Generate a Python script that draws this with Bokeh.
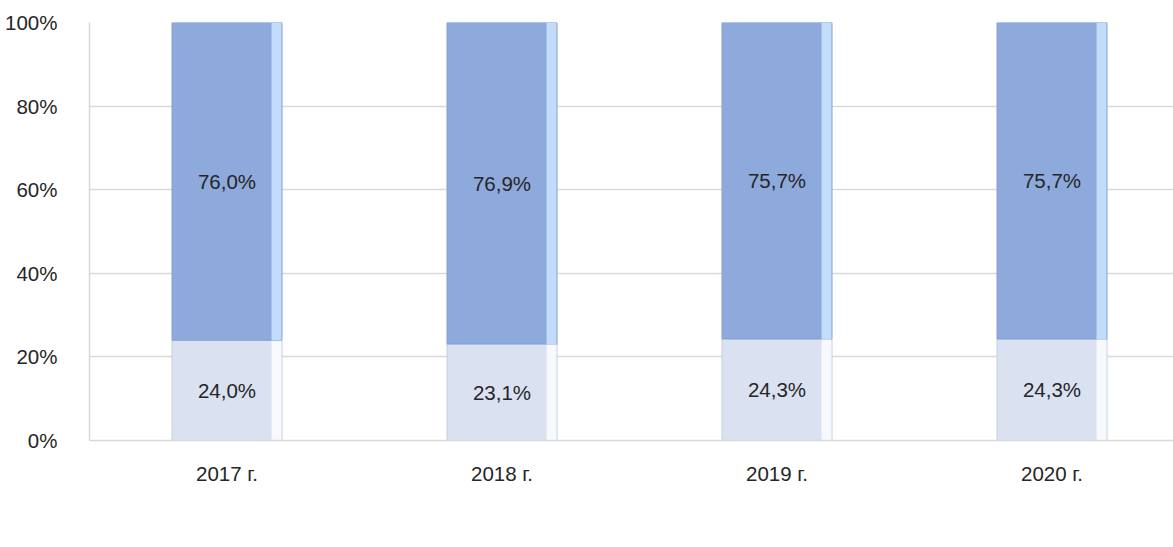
from bokeh.plotting import figure
from bokeh.models import ColumnDataSource, FixedTicker, NumeralTickFormatter, Legend, LegendItem, Range1d
from bokeh.core.properties import value
from bokeh.embed import file_html
from bokeh.resources import INLINE

years = ["2017 г.", "2018 г.", "2019 г.", "2020 г."]
mandatory = [24.0, 23.1, 24.3, 24.3]
discretion = [76.0, 76.9, 75.7, 75.7]
series_names = ["Задължително", "По преценка на ТП на НОИ"]

FONT = "Liberation Sans"
FS = "20.5px"
xs = [i + 0.5 for i in range(len(years))]
bw = 0.4
strip = 0.036

m = [v / 100 for v in mandatory]
d = [v / 100 for v in discretion]
top = [a + b for a, b in zip(m, d)]

src = ColumnDataSource(dict(
    x=xs,
    xs_strip=[x + bw / 2 - strip / 2 - 0.002 for x in xs],
    m=m, top=top,
    m_mid=[a / 2 for a in m],
    d_mid=[a + b / 2 for a, b in zip(m, d)],
    m_lab=[f"{v:.1f}%".replace(".", ",") for v in mandatory],
    d_lab=[f"{v:.1f}%".replace(".", ",") for v in discretion],
))

p = figure(frame_width=1084, frame_height=418, min_border_left=89, min_border_top=22,
           min_border_right=0, min_border_bottom=0,
           output_backend="svg", toolbar_location=None,
           x_range=Range1d(0, 1084 / 275), y_range=Range1d(0, 1))
p.outline_line_color = None
p.background_fill_color = "white"

r1 = p.vbar(x="x", width=bw, bottom=0, top="m", source=src,
            fill_color="#DAE1F1", line_color="#C4CFE6", line_width=1)
p.vbar(x="xs_strip", width=strip, bottom=0, top="m", source=src,
       fill_color="#F7F9FD", line_color=None)
r2 = p.vbar(x="x", width=bw, bottom="m", top="top", source=src,
            fill_color="#8EA9DB", line_color="#839FD4", line_width=1)
p.vbar(x="xs_strip", width=strip, bottom="m", top="top", source=src,
       fill_color="#C3DCFA", line_color=None)

p.text(x="x", y="m_mid", text="m_lab", source=src, text_align="center", text_baseline="middle",
       text_font=value(FONT), text_font_size=FS, text_color="#262626")
p.text(x="x", y="d_mid", text="d_lab", source=src, text_align="center", text_baseline="middle",
       text_font=value(FONT), text_font_size=FS, text_color="#262626")

p.xgrid.visible = False
p.ygrid.grid_line_color = "#D9D9D9"
p.ygrid.grid_line_width = 1.5
p.ygrid.ticker = FixedTicker(ticks=[0, 0.2, 0.4, 0.6, 0.8, 1.0])

p.yaxis.ticker = FixedTicker(ticks=[0, 0.2, 0.4, 0.6, 0.8, 1.0])
p.yaxis.formatter = NumeralTickFormatter(format="0%")
p.yaxis.axis_line_color = "#D9D9D9"
p.yaxis.axis_line_width = 1.5
p.yaxis.major_tick_line_color = None
p.yaxis.minor_tick_line_color = None
p.yaxis.major_label_text_font = FONT
p.yaxis.major_label_text_font_size = FS
p.yaxis.major_label_text_color = "#262626"
p.yaxis.major_label_standoff = 26

p.xaxis.ticker = FixedTicker(ticks=xs)
p.xaxis.major_label_overrides = {x: y for x, y in zip(xs, years)}
p.xaxis.axis_line_color = "#D9D9D9"
p.xaxis.axis_line_width = 1.5
p.xaxis.major_tick_line_color = None
p.xaxis.minor_tick_line_color = None
p.xaxis.major_label_text_font = FONT
p.xaxis.major_label_text_font_size = FS
p.xaxis.major_label_text_color = "#262626"
p.xaxis.major_label_standoff = 15
p.xaxis.axis_label = " "
p.xaxis.axis_label_text_font_size = "30px"
p.xaxis.axis_label_standoff = 5

legend = Legend(items=[LegendItem(label=series_names[0], renderers=[r1]),
                       LegendItem(label=series_names[1], renderers=[r2])],
                orientation="horizontal", location="top")
legend.label_text_font = FONT
legend.label_text_font_size = FS
legend.label_text_color = "#262626"
legend.glyph_width = 11
legend.glyph_height = 11
legend.spacing = 30
legend.label_standoff = 5
legend.border_line_color = None
legend.background_fill_alpha = 0
legend.margin = 0
legend.padding = 2
p.add_layout(legend, "below")

open("out.html", "w").write(file_html(p, INLINE))
